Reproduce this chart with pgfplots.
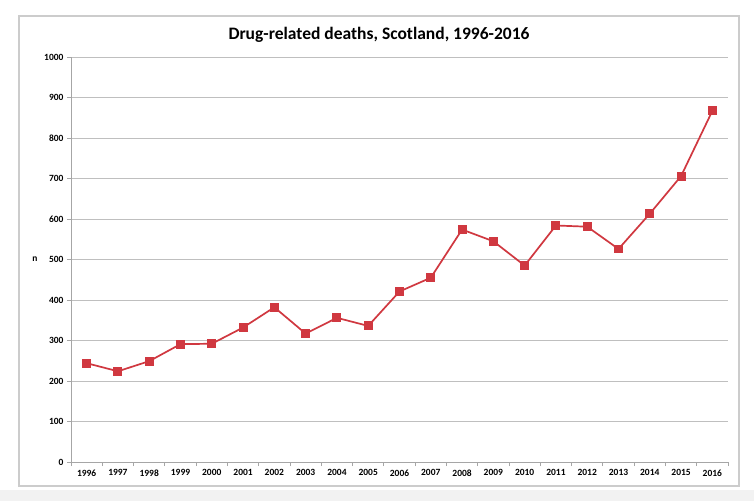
\documentclass[border=0pt]{standalone}
\usepackage{pgfplots}
\pgfplotsset{compat=1.18}
\usepackage{fontspec}
\setmainfont{Carlito}
\definecolor{linered}{RGB}{208,56,64}
\begin{document}
\begin{tikzpicture}[x=1pt,y=1pt]
\path[use as bounding box] (0,0) rectangle (754,501);
\fill[white] (0,0) rectangle (754,501);
\fill[black!5] (0,0) rectangle (754,11);
\draw[black!20, line width=1.2pt] (19,15) rectangle (739,485);
\node[font=\bfseries\fontsize{17.5}{21}\selectfont] at (379,466) {Drug-related deaths, Scotland, 1996-2016};
\begin{axis}[
  at={(71pt,39pt)}, anchor=south west,
  scale only axis, width=657pt, height=405pt,
  xmin=-0.5, xmax=20.5, ymin=0, ymax=1000,
  axis x line*=bottom, axis y line*=left,
  axis line style={draw=black!35, line width=0.8pt, -},
  ytick={0,100,...,1000},
  yticklabels={0,100,200,300,400,500,600,700,800,900,1000},
  xtick={0,...,20},
  xticklabels={1996,1997,1998,1999,2000,2001,2002,2003,2004,2005,2006,2007,2008,2009,2010,2011,2012,2013,2014,2015,2016},
  minor xtick={-0.5,0.5,...,20.5},
  tick align=outside,
  major tick length=4pt, minor tick length=4pt,
  major x tick style={draw=none},
  minor x tick style={draw=black!35, line width=0.8pt},
  major y tick style={draw=black!35, line width=0.8pt},
  ymajorgrids,
  grid style={draw=black!25, line width=0.9pt},
  ticklabel style={font=\bfseries\fontsize{9.5}{11}\selectfont, text=black},
  ylabel={n},
  ylabel style={at={(axis description cs:-0.055,0.5)}, rotate=-90, anchor=center, font=\bfseries\fontsize{9.5}{11}\selectfont},
  clip=false,
]
\addplot[linered, line width=1.7pt, mark=square*, mark size=3.6pt, mark options={solid, fill=linered}] coordinates {
(0,244) (1,224) (2,249) (3,291) (4,292) (5,332) (6,382) (7,317) (8,356) (9,336) (10,421)
(11,455) (12,574) (13,545) (14,485) (15,584) (16,581) (17,526) (18,613) (19,706) (20,867)
};
\end{axis}
\end{tikzpicture}
\end{document}
